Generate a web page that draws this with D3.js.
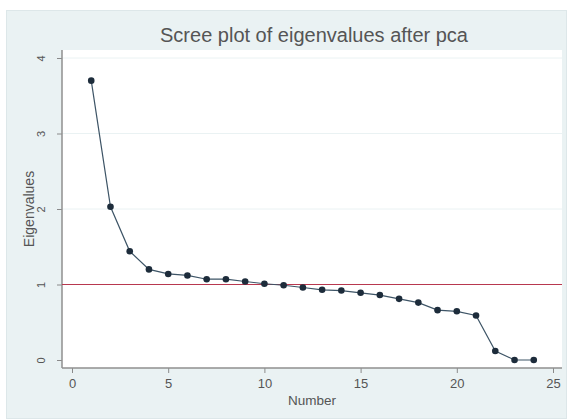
<!DOCTYPE html>
<html>
<head>
<meta charset="utf-8">
<script src="https://cdn.jsdelivr.net/npm/d3@7"></script>
<style>
  body { margin: 0; background: #fff; }
  text { font-family: "Liberation Sans", Arial, sans-serif; }
</style>
</head>
<body>
<svg id="chart" width="571" height="419"></svg>
<script>
// eigenvalues
var components = d3.range(1, 25);
var eigenvalues = [3.70, 2.03, 1.44, 1.20, 1.14, 1.12, 1.07, 1.07, 1.04, 1.01,
                   0.99, 0.96, 0.93, 0.92, 0.89, 0.86, 0.81, 0.76, 0.66, 0.645,
                   0.59, 0.12, 0.00, 0.00];
var xTicks = [0, 5, 10, 15, 20, 25];
var yTicks = [0, 1, 2, 3, 4];
var refLine = 1;

var svg = d3.select("#chart");
var W = 571, H = 419;

// plot region edges (note: "top" is taken by window.top)
var pLeft = 62, pRight = 562, pTop = 50, pBottom = 368;

var x = d3.scaleLinear().domain([0, 25]).range([72, 553]);
var y = d3.scaleLinear().domain([0, 4]).range([360, 58]);

// graph region
svg.append("rect")
  .attr("x", 0).attr("y", 0).attr("width", W).attr("height", H)
  .attr("fill", "#fff");
svg.append("rect")
  .attr("x", 6.5).attr("y", 10.5).attr("width", 560).attr("height", 408)
  .attr("fill", "#eaf2f3").attr("stroke", "#dde7e9");

// plot region
svg.append("rect")
  .attr("x", pLeft).attr("y", pTop)
  .attr("width", pRight - pLeft).attr("height", pBottom - pTop)
  .attr("fill", "#fff");

// gridlines
svg.append("g").selectAll("line")
  .data(yTicks.filter(function(d) { return d > 0; }))
  .enter().append("line")
  .attr("x1", pLeft).attr("x2", pRight)
  .attr("y1", function(d) { return y(d); })
  .attr("y2", function(d) { return y(d); })
  .attr("stroke", "#eaf2f3").attr("stroke-width", 1);

// y axis
var yAxis = svg.append("g")
  .attr("transform", "translate(" + pLeft + ",0)")
  .call(d3.axisLeft(y).tickValues(yTicks).tickSize(5).tickSizeOuter(0).tickFormat(d3.format("d")));
yAxis.select(".domain").remove();
yAxis.selectAll(".tick line").attr("stroke", "#8a8a8a");
yAxis.selectAll(".tick text")
  .attr("transform", "rotate(-90)")
  .attr("x", 0).attr("y", -17).attr("dy", "0")
  .attr("text-anchor", "middle")
  .attr("font-size", 11).attr("fill", "#555");

// x axis
var xAxis = svg.append("g")
  .attr("transform", "translate(0," + pBottom + ")")
  .call(d3.axisBottom(x).tickValues(xTicks).tickSize(5).tickSizeOuter(0).tickPadding(6));
xAxis.select(".domain").remove();
xAxis.selectAll(".tick line").attr("stroke", "#8a8a8a");
xAxis.selectAll(".tick text").attr("font-size", 13).attr("fill", "#555");

// axis lines
svg.append("line")
  .attr("x1", pLeft).attr("x2", pLeft).attr("y1", pTop).attr("y2", pBottom)
  .attr("stroke", "#8f8f8f").attr("stroke-width", 1.5);
svg.append("line")
  .attr("x1", pLeft).attr("x2", pRight).attr("y1", pBottom).attr("y2", pBottom)
  .attr("stroke", "#8f8f8f").attr("stroke-width", 1.5);

// reference line at eigenvalue 1
svg.append("line")
  .attr("x1", pLeft).attr("x2", pRight)
  .attr("y1", y(refLine)).attr("y2", y(refLine))
  .attr("stroke", "#b8384f").attr("stroke-width", 1.2);

// scree line
var pts = components.map(function(c, i) { return [c, eigenvalues[i]]; });
svg.append("path")
  .datum(pts)
  .attr("fill", "none")
  .attr("stroke", "#3d5466").attr("stroke-width", 1.2)
  .attr("d", d3.line()
    .x(function(d) { return x(d[0]); })
    .y(function(d) { return y(d[1]); }));

svg.append("g").selectAll("circle")
  .data(pts)
  .enter().append("circle")
  .attr("cx", function(d) { return x(d[0]); })
  .attr("cy", function(d) { return y(d[1]); })
  .attr("r", 3.3)
  .attr("fill", "#1d2c3b");

// titles
svg.append("text")
  .attr("x", 314).attr("y", 42)
  .attr("text-anchor", "middle")
  .attr("font-size", 20).attr("fill", "#555")
  .text("Scree plot of eigenvalues after pca");

svg.append("text")
  .attr("transform", "translate(34," + 209 + ") rotate(-90)")
  .attr("text-anchor", "middle")
  .attr("font-size", 14).attr("fill", "#555")
  .text("Eigenvalues");

svg.append("text")
  .attr("x", 312).attr("y", 405)
  .attr("text-anchor", "middle")
  .attr("font-size", 13.5).attr("fill", "#555")
  .text("Number");
</script>
</body>
</html>
